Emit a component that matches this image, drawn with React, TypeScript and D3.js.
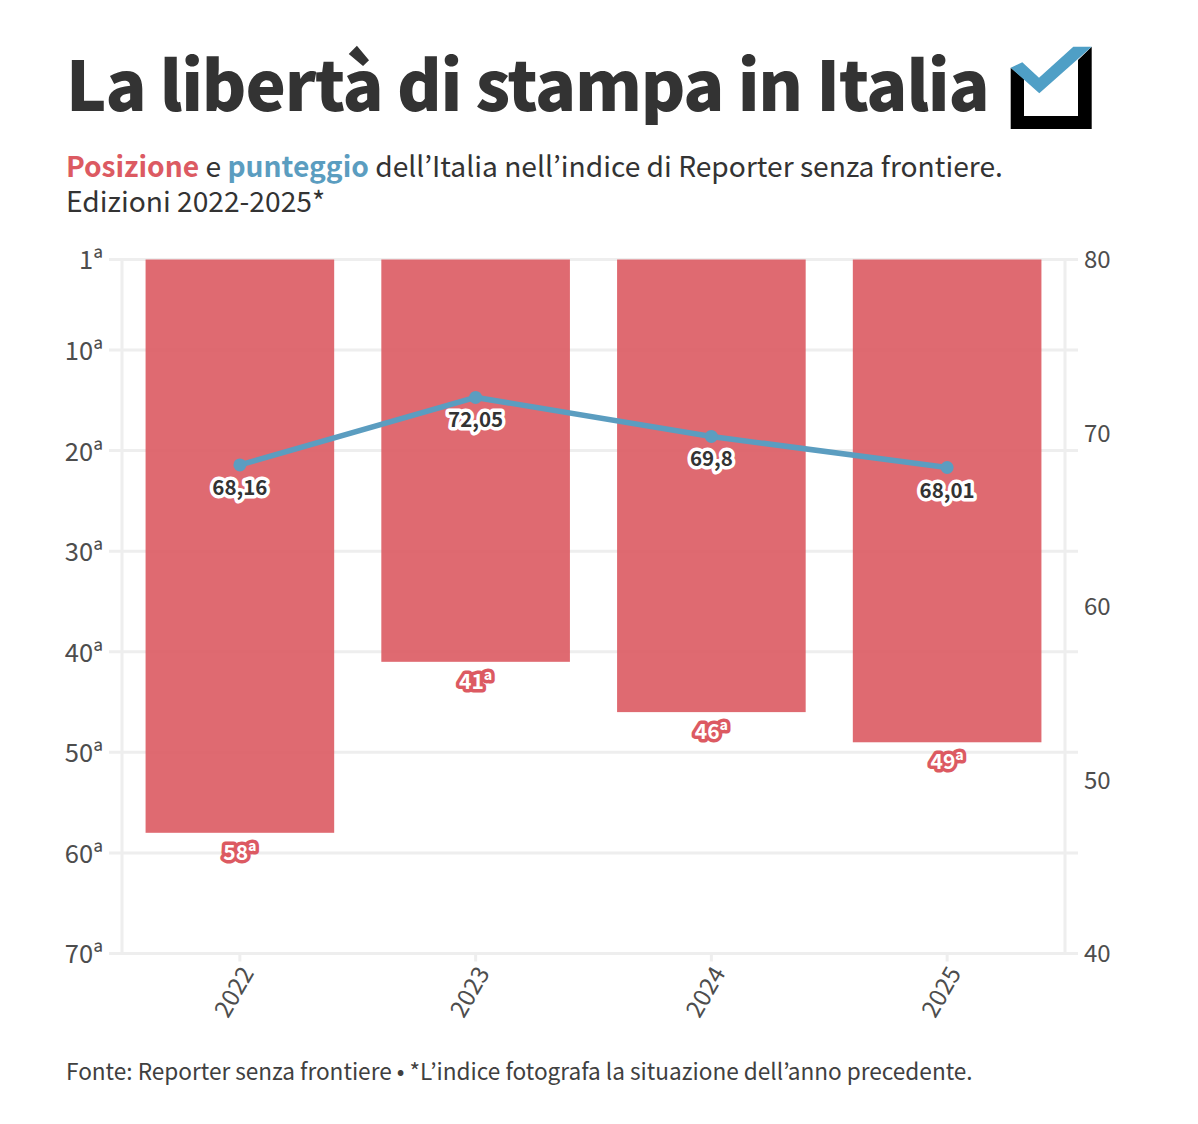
import React, { useEffect, useRef } from 'react'
import * as d3 from 'd3'

const years = ['2022', '2023', '2024', '2025']
const positions = [58, 41, 46, 49]
const scores = [68.16, 72.05, 69.8, 68.01]
const scoreLabels = ['68,16', '72,05', '69,8', '68,01']
const rankTicks = [1, 10, 20, 30, 40, 50, 60, 70]
const scoreTicks = [40, 50, 60, 70, 80]

const FONT = '"Noto Sans CJK KR", "Source Sans Pro", sans-serif'
const RED = '#dc5a62'
const BLUE = '#5b9dc0'
const GRID = '#eeeeee'
const INK = '#333333'
const TICK = '#4d4d4d'

export default function App() {
    const d3Ref = useRef<SVGSVGElement>(null)

    useEffect(() => {
        const width = 1198
        const height = 1124
        const left = 122
        const right = 1065
        const top = 259.5
        const bottom = 953.5

        const svg = d3.select(d3Ref.current!)
        svg.selectAll('*').remove()
        svg.attr('width', width).attr('height', height).style('font-family', FONT)

        const x = d3.scaleBand<string>().domain(years).range([left, right]).paddingInner(0.2).paddingOuter(0.1)
        const yRank = d3.scaleLinear().domain([1, 70]).range([top, bottom])
        const yScore = d3.scaleLinear().domain([40, 80]).range([bottom, top])

        // title
        svg.append('text')
            .attr('x', 66).attr('y', 111)
            .attr('font-size', 68).attr('font-weight', 900).attr('fill', INK)
            .attr('letter-spacing', -1.2)
            .text('La libertà di stampa in Italia')

        // checkbox logo
        const logo = svg.append('g').attr('transform', 'translate(1010,46)')
        logo.append('path')
            .attr('d', 'M0.7,21.7 L14,33 L14,70 L68,70 L68,14 L81.7,0.7 L81.7,83 L0.7,83 Z')
            .attr('fill', '#000')
        logo.append('path')
            .attr('d', 'M0.7,21.7 L12.3,16.3 L29,31.7 L63.3,0.7 L81.7,0.7 L29.3,47.3 Z')
            .attr('fill', '#4f9fc6')

        // subtitle
        const sub = svg.append('text')
            .attr('x', 66).attr('y', 177)
            .attr('font-size', 28.2).attr('fill', INK)
        sub.append('tspan').attr('font-weight', 700).attr('fill', RED).text('Posizione')
        sub.append('tspan').text(' e ')
        sub.append('tspan').attr('font-weight', 700).attr('fill', BLUE).text('punteggio')
        sub.append('tspan').text(' dell’Italia nell’indice di Reporter senza frontiere.')
        svg.append('text')
            .attr('x', 66).attr('y', 212)
            .attr('font-size', 28.2).attr('fill', INK)
            .text('Edizioni 2022-2025*')

        // left axis + gridlines
        const axisLeft = svg.append('g')
            .attr('transform', `translate(${left},0)`)
            .call(d3.axisLeft(yRank).tickValues(rankTicks).tickSize(0).tickPadding(19).tickFormat(d => `${d}ª`))
        axisLeft.select('.domain').remove()
        axisLeft.selectAll('text').attr('font-size', 25.5).attr('fill', TICK).attr('dy', '0.37em').style('font-family', FONT)

        const grid = svg.append('g')
        grid.selectAll('line.h')
            .data(rankTicks)
            .join('line')
            .attr('class', 'h')
            .attr('x1', left - 13).attr('x2', right + 13)
            .attr('y1', d => yRank(d)).attr('y2', d => yRank(d))
            .attr('stroke', GRID).attr('stroke-width', 3)
        grid.selectAll('line.v')
            .data([left, right])
            .join('line')
            .attr('class', 'v')
            .attr('x1', d => d).attr('x2', d => d)
            .attr('y1', top).attr('y2', bottom)
            .attr('stroke', GRID).attr('stroke-width', 3)

        // right axis
        const axisRight = svg.append('g')
            .attr('transform', `translate(${right},0)`)
            .call(d3.axisRight(yScore).tickValues(scoreTicks).tickSize(0).tickPadding(19))
        axisRight.select('.domain').remove()
        axisRight.selectAll('text').attr('font-size', 24).attr('fill', TICK).attr('dy', '0.34em').style('font-family', FONT)

        // bottom axis
        const axisBottom = svg.append('g')
            .attr('transform', `translate(0,${bottom})`)
            .call(d3.axisBottom(x).tickSize(8).tickPadding(10))
        axisBottom.select('.domain').remove()
        axisBottom.selectAll('line').attr('stroke', GRID).attr('stroke-width', 3)
        axisBottom.selectAll('text')
            .attr('font-size', 24).attr('fill', TICK).style('font-family', FONT)
            .attr('text-anchor', 'end').attr('x', 0).attr('y', 0)
            .attr('transform', 'translate(0,11) rotate(-60)')

        // bars
        svg.append('g').selectAll('rect')
            .data(years)
            .join('rect')
            .attr('x', d => x(d)!)
            .attr('y', top)
            .attr('width', x.bandwidth())
            .attr('height', (_, i) => yRank(positions[i]) - top)
            .attr('fill', RED)
            .attr('fill-opacity', 0.9)

        // line
        const cx = (i: number) => x(years[i])! + x.bandwidth() / 2
        const line = d3.line<number>().x((_, i) => cx(i)).y(d => yScore(d))
        svg.append('path')
            .datum(scores)
            .attr('fill', 'none').attr('stroke', BLUE).attr('stroke-width', 5.5)
            .attr('d', line)
        svg.append('g').selectAll('circle')
            .data(scores)
            .join('circle')
            .attr('cx', (_, i) => cx(i)).attr('cy', d => yScore(d))
            .attr('r', 6.5).attr('fill', BLUE)

        // rank labels
        svg.append('g').selectAll('text')
            .data(positions)
            .join('text')
            .attr('x', (_, i) => cx(i)).attr('y', d => yRank(d) + 27)
            .attr('text-anchor', 'middle')
            .attr('font-size', 21).attr('font-weight', 700).attr('fill', '#fff')
            .attr('stroke', RED).attr('stroke-width', 7).attr('stroke-linejoin', 'round')
            .style('paint-order', 'stroke')
            .text(d => `${d}ª`)

        // score labels
        svg.append('g').selectAll('text')
            .data(scores)
            .join('text')
            .attr('x', (_, i) => cx(i)).attr('y', d => yScore(d) + 30)
            .attr('text-anchor', 'middle')
            .attr('font-size', 20.5).attr('font-weight', 700).attr('fill', INK)
            .attr('stroke', '#fff').attr('stroke-width', 7).attr('stroke-linejoin', 'round')
            .style('paint-order', 'stroke')
            .text((_, i) => scoreLabels[i])

        // source
        svg.append('text')
            .attr('x', 66).attr('y', 1080)
            .attr('font-size', 22.6).attr('fill', '#404040')
            .text('Fonte: Reporter senza frontiere • *L’indice fotografa la situazione dell’anno precedente.')
    }, [])

    return (
        <div style={{ position: 'absolute', left: 0, top: 0 }}>
            <svg ref={d3Ref} style={{ display: 'block' }}></svg>
        </div>
    )
}
